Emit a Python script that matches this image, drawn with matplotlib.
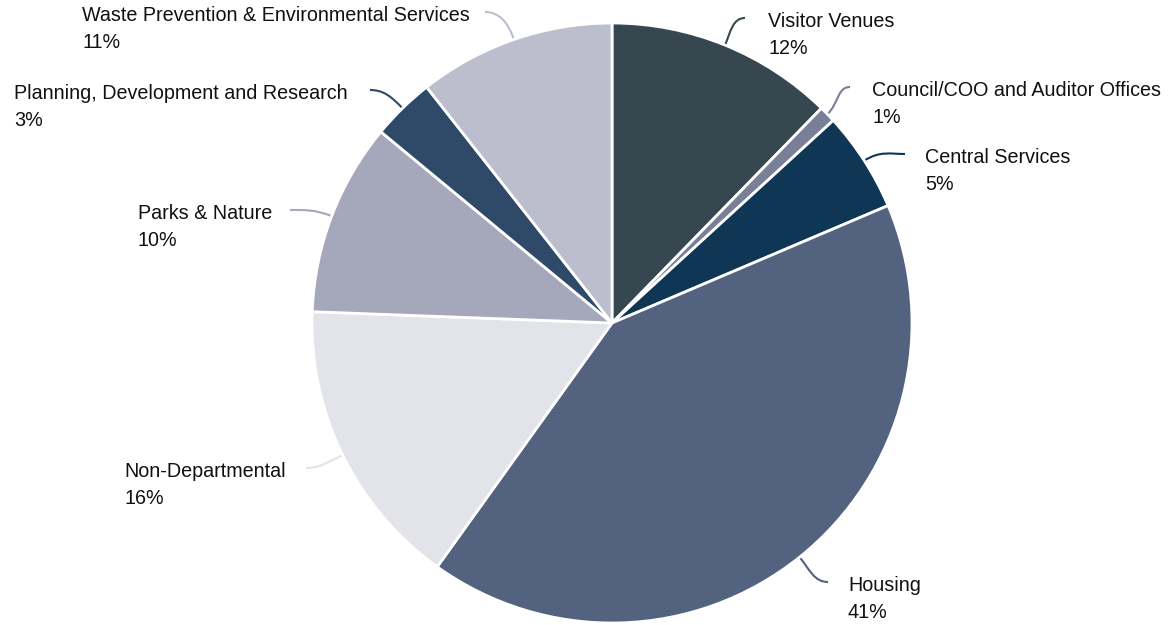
import numpy as np
import matplotlib.pyplot as plt
from matplotlib.path import Path
from matplotlib.patches import PathPatch

plt.rcParams['font.family'] = ['Liberation Sans', 'DejaVu Sans']

# datos del grafico (orden horario desde arriba)
categorias = ['Visitor Venues', 'Council/COO and Auditor Offices', 'Central Services',
              'Housing', 'Non-Departmental', 'Parks & Nature',
              'Planning, Development and Research',
              'Waste Prevention & Environmental Services']
valores = [12.3, 0.9, 5.4, 41.3, 15.7, 10.4, 3.4, 10.6]
colores = ['#37474f', '#7a7f98', '#0f3655', '#52627f', '#e3e4ea', '#a5a8ba',
           '#2e4a68', '#bcbecd']

# extremo de cada linea guia (pixeles, y desde arriba) y lado de la etiqueta
fin_linea = [(745, 18), (850, 87), (905, 154), (828, 582),
             (306, 468), (290, 210), (370, 90), (485, 12)]
lado = [1, 1, 1, 1, -1, -1, -1, -1]
hueco = [23, 22, 20, 20, 20, 18, 22, 15]

W, H = 1173, 625
fig = plt.figure(figsize=(W / 100, H / 100), dpi=100)
ax = fig.add_axes([0, 0, 1, 1])

cx, cy, r = 612, H - 323, 300
wedges, _ = ax.pie(valores, colors=colores, startangle=90, counterclock=False,
                   center=(cx, cy), radius=r,
                   wedgeprops=dict(edgecolor='white', linewidth=2))

total = sum(valores)
for w, nombre, v, (ex, ey), s, g, col in zip(wedges, categorias, valores, fin_linea,
                                             lado, hueco, colores):
    ang = np.deg2rad((w.theta1 + w.theta2) / 2)
    u = np.array([np.cos(ang), np.sin(ang)])
    p0 = np.array([cx, cy]) + r * u
    p3 = np.array([ex, H - ey], dtype=float)
    k = 0.45 * np.linalg.norm(p3 - p0)
    p1 = p0 + u * k
    p2 = p3 - np.array([s, 0]) * k * 0.8
    camino = Path([p0, p1, p2, p3], [Path.MOVETO, Path.CURVE4, Path.CURVE4, Path.CURVE4])
    ax.add_patch(PathPatch(camino, facecolor='none', edgecolor=col, lw=1.5, zorder=0.5))
    pct = round(v / total * 100)
    ax.text(p3[0] + s * g, p3[1] - 17, f'{nombre}\n{pct}%',
            ha='left' if s > 0 else 'right', va='center', multialignment='left',
            fontsize=14.2, color='#111111', linespacing=1.47)

ax.set_xlim(0, W)
ax.set_ylim(0, H)
ax.set_aspect('equal')
ax.axis('off')
fig.savefig('out.png', dpi=100)
